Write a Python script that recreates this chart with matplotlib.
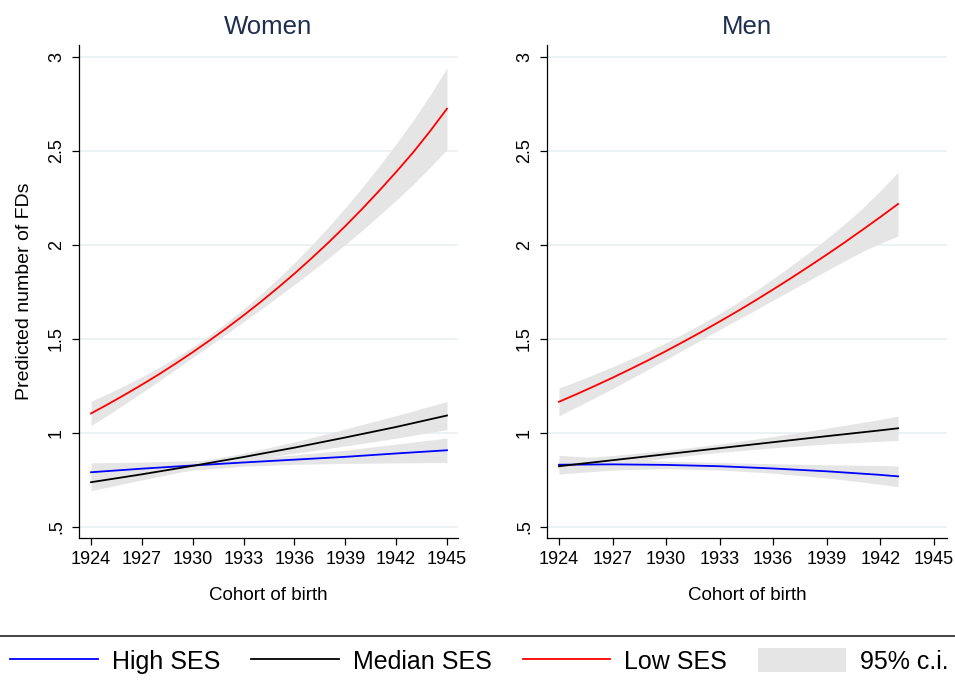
import numpy as np
import matplotlib
matplotlib.use("Agg")
import matplotlib.pyplot as plt
from matplotlib.lines import Line2D
from matplotlib.patches import Patch

plt.rcParams['font.family'] = ['Liberation Sans', 'DejaVu Sans']

# cohort years (men only go to 1943)
years_w = [1924, 1927, 1930, 1933, 1936, 1939, 1942, 1945]
years_m = [1924, 1927, 1930, 1933, 1936, 1939, 1942, 1943]
years_w_low = list(range(1924, 1946))
years_m_low = list(range(1924, 1944))

# women - predicted values and 95% c.i.
w_high = [0.790, 0.809, 0.826, 0.842, 0.857, 0.872, 0.890, 0.907]
w_high_lo = [0.740, 0.774, 0.801, 0.822, 0.832, 0.837, 0.840, 0.842]
w_high_hi = [0.840, 0.844, 0.851, 0.862, 0.882, 0.907, 0.940, 0.972]
w_med = [0.737, 0.779, 0.824, 0.871, 0.921, 0.975, 1.031, 1.092]
w_med_lo = [0.692, 0.749, 0.804, 0.851, 0.891, 0.930, 0.971, 1.017]
w_med_hi = [0.782, 0.809, 0.844, 0.891, 0.951, 1.020, 1.091, 1.167]
w_low = [1.103, 1.152, 1.203, 1.256, 1.311, 1.369, 1.429, 1.492, 1.557, 1.625, 1.696,
         1.770, 1.847, 1.928, 2.012, 2.100, 2.192, 2.288, 2.388, 2.492, 2.605, 2.725]
w_low_ci = [0.065, 0.057, 0.049, 0.042, 0.036, 0.031, 0.028, 0.028, 0.030, 0.034, 0.040,
            0.048, 0.058, 0.070, 0.083, 0.098, 0.114, 0.131, 0.150, 0.170, 0.192, 0.217]

# men
m_high = [0.830, 0.832, 0.829, 0.822, 0.810, 0.795, 0.776, 0.768]
m_high_lo = [0.780, 0.802, 0.809, 0.802, 0.785, 0.760, 0.726, 0.713]
m_high_hi = [0.880, 0.862, 0.849, 0.842, 0.835, 0.830, 0.826, 0.823]
m_med = [0.822, 0.854, 0.886, 0.918, 0.950, 0.982, 1.013, 1.024]
m_med_lo = [0.787, 0.829, 0.866, 0.896, 0.920, 0.940, 0.955, 0.959]
m_med_hi = [0.857, 0.879, 0.906, 0.940, 0.980, 1.024, 1.071, 1.089]
m_low = [1.165, 1.206, 1.249, 1.293, 1.339, 1.386, 1.435, 1.486, 1.538, 1.592,
         1.647, 1.704, 1.763, 1.823, 1.885, 1.948, 2.013, 2.080, 2.148, 2.218]
m_low_ci = [0.074, 0.068, 0.063, 0.058, 0.053, 0.048, 0.045, 0.043, 0.042, 0.043,
            0.046, 0.051, 0.057, 0.065, 0.074, 0.085, 0.098, 0.115, 0.140, 0.170]

xticks = [1924, 1927, 1930, 1933, 1936, 1939, 1942, 1945]
yticks = [0.5, 1, 1.5, 2, 2.5, 3]
ytick_labels = ['.5', '1', '1.5', '2', '2.5', '3']

BAND = '#e5e5e5'
GRID = '#eaf1f2'
TITLE_COL = '#1e2d50'

fig = plt.figure(figsize=(9.55, 6.82), dpi=100)
ax_w = fig.add_axes([79 / 955, 1 - 538 / 682, 379 / 955, 493 / 682])
ax_m = fig.add_axes([547 / 955, 1 - 538 / 682, 400 / 955, 493 / 682])


def draw_panel(ax, series, title, xlim):
    # bands first, lines on top
    for yrs, mid, lo, hi, col in series:
        ax.fill_between(yrs, lo, hi, color=BAND, linewidth=0, zorder=1)
    for yrs, mid, lo, hi, col in series:
        ax.plot(yrs, mid, color=col, linewidth=1.3, zorder=3)

    ax.set_xlim(*xlim)
    ax.set_ylim(0.44, 3.064)
    ax.set_xticks(xticks)
    ax.set_yticks(yticks)
    ax.set_yticklabels(ytick_labels, rotation=90, va='center')
    ax.tick_params(axis='both', labelsize=13, length=5, width=0.9, direction='out')
    ax.tick_params(axis='y', pad=5)
    ax.tick_params(axis='x', pad=4)
    ax.grid(axis='y', color=GRID, linewidth=1.3, zorder=0)
    ax.set_axisbelow(True)
    for s in ['top', 'right']:
        ax.spines[s].set_visible(False)
    for s in ['left', 'bottom']:
        ax.spines[s].set_linewidth(0.9)
    ax.set_xlabel('Cohort of birth', fontsize=13.5, labelpad=14)
    ax.set_title(title, fontsize=18.5, color=TITLE_COL, pad=8)


w_low_arr = np.array(w_low)
w_ci_arr = np.array(w_low_ci)
m_low_arr = np.array(m_low)
m_ci_arr = np.array(m_low_ci)

draw_panel(ax_w,
           [(years_w, w_high, w_high_lo, w_high_hi, 'blue'),
            (years_w, w_med, w_med_lo, w_med_hi, 'black'),
            (years_w_low, w_low, w_low_arr - w_ci_arr, w_low_arr + w_ci_arr, 'red')],
           'Women', (1923.29, 1945.65))
ax_w.set_ylabel('Predicted number of FDs', fontsize=14, labelpad=11)

draw_panel(ax_m,
           [(years_m, m_high, m_high_lo, m_high_hi, 'blue'),
            (years_m, m_med, m_med_lo, m_med_hi, 'black'),
            (years_m_low, m_low, m_low_arr - m_ci_arr, m_low_arr + m_ci_arr, 'red')],
           'Men', (1923.33, 1945.74))

# separator line above the legend
fig.add_artist(Line2D([0, 1], [1 - 636 / 682, 1 - 636 / 682], transform=fig.transFigure,
                      color='#222222', linewidth=1.2))

handles = [Line2D([], [], color='blue', linewidth=1.3),
           Line2D([], [], color='black', linewidth=1.3),
           Line2D([], [], color='red', linewidth=1.3),
           Patch(facecolor=BAND, edgecolor='none')]
labels = ['High SES', 'Median SES', 'Low SES', '95% c.i.']
fig.legend(handles, labels, loc='center left', bbox_to_anchor=(10 / 955, 1 - 661 / 682),
           ncol=4, frameon=False, fontsize=18, handlelength=3.5, handleheight=1.1,
           handletextpad=0.56, columnspacing=1.25, borderpad=0, borderaxespad=0)

fig.savefig('out.png', dpi=100, facecolor='white')
